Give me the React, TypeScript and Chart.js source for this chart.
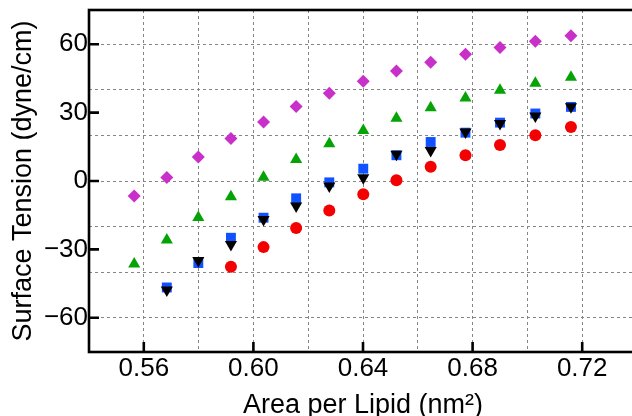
import React, { useEffect, useRef } from 'react';
import { Chart, registerables } from 'chart.js';

Chart.register(...registerables);

// Area per lipid (nm^2) sampled by the simulations
const AREA = [0.5565, 0.5684, 0.5799, 0.5918, 0.6037, 0.6156, 0.6277, 0.6401, 0.6522, 0.6647, 0.6774, 0.69, 0.7029, 0.7159];

// Surface tension (dyne/cm) per series
const MAGENTA_Y = [-6.6, 1.5, 10.5, 18.6, 25.9, 32.7, 38.5, 43.8, 48.3, 52.1, 55.6, 58.6, 61.3, 63.7];
const GREEN_Y = [-36.4, -25.9, -16.0, -6.9, 1.6, 9.4, 16.3, 22.1, 27.5, 32.1, 36.4, 39.8, 42.9, 45.5];
const BLUE_Y = [-46.7, -36.0, -24.9, -16.1, -7.6, -0.6, 5.4, 11.3, 17.1, 21.2, 25.6, 29.6, 32.5];
const BLACK_Y = [-47.8, -34.9, -27.8, -16.9, -11.0, -2.2, 1.4, 11.7, 13.4, 21.5, 25.2, 28.5, 32.6];
const RED_Y = [-37.6, -29.0, -20.6, -12.9, -5.8, 0.3, 6.2, 11.3, 15.8, 20.1, 23.7];

// first AREA index of each series
const MAGENTA_START = 0;
const GREEN_START = 0;
const BLUE_START = 1;
const BLACK_START = 1;
const RED_START = 3;

// axis ticks
const X_GRID_TICKS = [0.56, 0.58, 0.6, 0.62, 0.64, 0.66, 0.68, 0.7, 0.72];
const X_LABEL_TICKS = [0.56, 0.6, 0.64, 0.68, 0.72];
const Y_GRID_TICKS = [-60, -40, -20, 0, 20, 40, 60];
const Y_LABEL_TICKS = [-60, -30, 0, 30, 60];
const Y_ALL_TICKS = [-60, -40, -30, -20, 0, 20, 30, 40, 60];

const X_TITLE = 'Area per Lipid (nm\u00B2)';
const Y_TITLE = 'Surface Tension (dyne/cm)';

const FONT = "'Liberation Sans', Arial, Helvetica, sans-serif";
const GRID_COLOR = '#858585';

function pts(ys: number[], start: number) {
  return ys.map((y, i) => ({ x: AREA[i + start], y }));
}

function near(list: number[], v: number) {
  return list.some((t) => Math.abs(t - v) < 1e-6);
}

const framePlugin = {
  id: 'frame',
  afterDraw(chart: any) {
    const { ctx, chartArea: a, scales } = chart;
    ctx.save();
    ctx.strokeStyle = '#000';
    ctx.lineWidth = 2.6;
    ctx.strokeRect(a.left, a.top, a.right - a.left, a.bottom - a.top);
    ctx.beginPath();
    X_LABEL_TICKS.forEach((v) => {
      const px = scales.x.getPixelForValue(v);
      ctx.moveTo(px, a.bottom);
      ctx.lineTo(px, a.bottom - 10);
    });
    Y_LABEL_TICKS.forEach((v) => {
      const py = scales.y.getPixelForValue(v);
      ctx.moveTo(a.left, py);
      ctx.lineTo(a.left + 10, py);
    });
    ctx.stroke();
    ctx.restore();
  },
};

export default function App() {
  const ref = useRef<HTMLCanvasElement | null>(null);

  useEffect(() => {
    if (!ref.current) return;
    const chart = new Chart(ref.current, {
      type: 'scatter',
      data: {
        datasets: [
          {
            label: 'red',
            data: pts(RED_Y, RED_START),
            pointStyle: 'circle',
            pointRadius: 6,
            backgroundColor: '#f50000',
            borderColor: '#f50000',
            borderWidth: 0,
          },
          {
            label: 'black',
            data: pts(BLACK_Y, BLACK_START),
            pointStyle: 'triangle',
            rotation: 180,
            pointRadius: 7,
            backgroundColor: '#000000',
            borderColor: '#000000',
            borderWidth: 0,
          },
          {
            label: 'blue',
            data: pts(BLUE_Y, BLUE_START),
            pointStyle: 'rect',
            pointRadius: 7,
            backgroundColor: '#1052ff',
            borderColor: '#1052ff',
            borderWidth: 0,
          },
          {
            label: 'green',
            data: pts(GREEN_Y, GREEN_START),
            pointStyle: 'triangle',
            pointRadius: 7,
            backgroundColor: '#06a306',
            borderColor: '#06a306',
            borderWidth: 0,
          },
          {
            label: 'magenta',
            data: pts(MAGENTA_Y, MAGENTA_START),
            pointStyle: 'rectRot',
            pointRadius: 6.5,
            backgroundColor: '#c92fc9',
            borderColor: '#c92fc9',
            borderWidth: 0,
          },
        ] as any,
      },
      options: {
        animation: false,
        responsive: false,
        devicePixelRatio: 1,
        layout: { padding: { top: 10, left: 0, right: 0, bottom: 0 } },
        plugins: {
          legend: { display: false },
          tooltip: { enabled: false },
        },
        scales: {
          x: {
            type: 'linear',
            min: 0.54,
            max: 0.74,
            afterBuildTicks: (s: any) => {
              s.ticks = X_GRID_TICKS.map((v) => ({ value: v }));
            },
            afterFit: (s: any) => {
              s.height = 64;
            },
            grid: { color: GRID_COLOR, lineWidth: 1, drawTicks: false },
            border: { display: false, dash: [3, 3] },
            ticks: {
              autoSkip: false,
              maxRotation: 0,
              minRotation: 0,
              padding: 1,
              color: '#000',
              font: { family: FONT, size: 26 },
              callback: (v: any) => (near(X_LABEL_TICKS, Number(v)) ? Number(v).toFixed(2) : ''),
            },
            title: {
              display: true,
              text: X_TITLE,
              color: '#000',
              font: { family: FONT, size: 27, lineHeight: 1 },
              padding: { top: 0, bottom: -3 },
            },
          },
          y: {
            type: 'linear',
            min: -75,
            max: 75,
            afterBuildTicks: (s: any) => {
              s.ticks = Y_ALL_TICKS.map((v) => ({ value: v }));
            },
            afterFit: (s: any) => {
              s.width = 89;
            },
            grid: {
              color: (c: any) => (c.tick && near(Y_GRID_TICKS, c.tick.value) ? GRID_COLOR : 'rgba(0,0,0,0)'),
              lineWidth: 1,
              drawTicks: false,
            },
            border: { display: false, dash: [3, 3] },
            ticks: {
              autoSkip: false,
              padding: 1,
              color: '#000',
              font: { family: FONT, size: 26, lineHeight: 0.6 },
              callback: (v: any) => {
                const n = Number(v);
                if (!near(Y_LABEL_TICKS, n)) return '';
                return n < 0 ? '\u2212' + Math.abs(n) : String(n);
              },
            },
            title: {
              display: true,
              text: Y_TITLE,
              color: '#000',
              font: { family: FONT, size: 27, lineHeight: 1 },
              padding: { top: 10, bottom: 0 },
            },
          },
        },
      } as any,
      plugins: [framePlugin],
    });
    return () => chart.destroy();
  }, []);

  return (
    <div style={{ position: 'absolute', left: 0, top: 0, width: 632, height: 416, overflow: 'hidden', background: '#fff' }}>
      <canvas ref={ref} width={644} height={416} style={{ display: 'block', width: 644, height: 416 }} />
    </div>
  );
}
